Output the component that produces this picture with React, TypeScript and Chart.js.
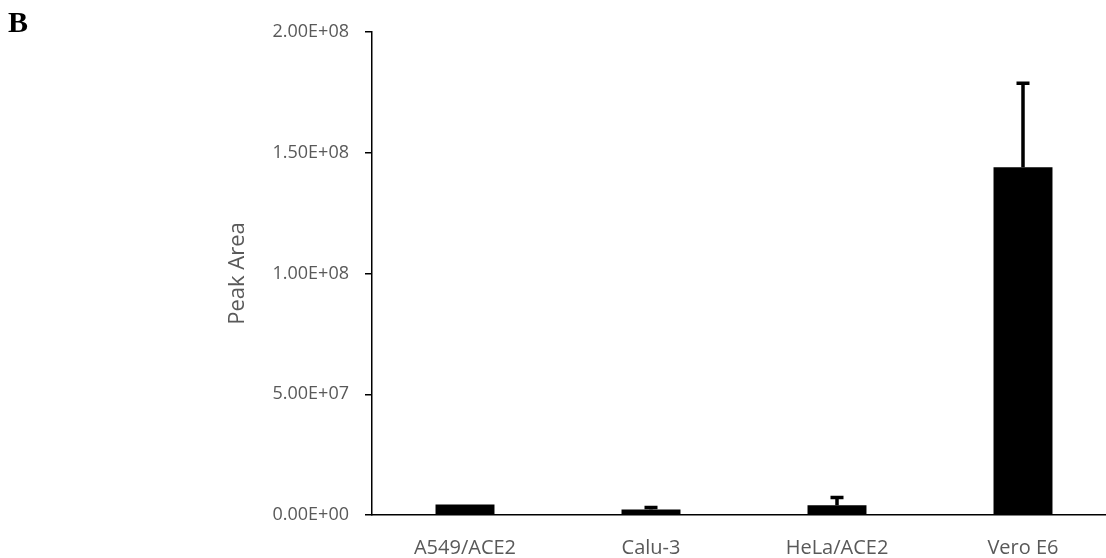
import React, { useEffect, useRef } from 'react';
import { Chart, registerables } from 'chart.js';

Chart.register(...registerables);

const categories = ['A549/ACE2', 'Calu-3', 'HeLa/ACE2', 'Vero E6'];
const peakArea = [4.3e6, 2.3e6, 4.0e6, 1.44e8];
const errorPlus = [0, 0.8e6, 3.2e6, 3.48e7];
const yMin = 0;
const yMax = 2e8;
const yStep = 5e7;
const yTitle = 'Peak Area';
const panelLabel = 'B';

const GRAY = '#595959';
const FONT = "'Open Sans', sans-serif";

function sci(v: number): string {
  if (v === 0) return '0.00E+00';
  const exp = Math.floor(Math.log10(Math.abs(v)));
  const mant = v / Math.pow(10, exp);
  const sign = exp < 0 ? '-' : '+';
  return mant.toFixed(2) + 'E' + sign + String(Math.abs(exp)).padStart(2, '0');
}

const errorBarPlugin = {
  id: 'errorBars',
  afterDatasetsDraw(chart: any) {
    const meta = chart.getDatasetMeta(0);
    const yScale = chart.scales.y;
    const ctx = chart.ctx;
    ctx.save();
    ctx.strokeStyle = '#000';
    ctx.lineWidth = 3.5;
    ctx.lineCap = 'butt';
    meta.data.forEach((bar: any, i: number) => {
      const e = errorPlus[i];
      if (!e) return;
      const x = bar.x;
      const yTop = yScale.getPixelForValue(peakArea[i] + e);
      const yBar = bar.y;
      ctx.beginPath();
      ctx.moveTo(x, yBar);
      ctx.lineTo(x, yTop);
      ctx.moveTo(x - 6.5, yTop);
      ctx.lineTo(x + 6.5, yTop);
      ctx.stroke();
    });
    ctx.restore();
  },
};

const labelsPlugin = {
  id: 'extraLabels',
  afterDraw(chart: any) {
    const ctx = chart.ctx;
    const area = chart.chartArea;
    ctx.save();
    ctx.fillStyle = GRAY;
    ctx.font = `22px ${FONT}`;
    ctx.textAlign = 'center';
    ctx.textBaseline = 'alphabetic';
    ctx.translate(244, (area.top + area.bottom) / 2);
    ctx.rotate(-Math.PI / 2);
    ctx.fillText(yTitle, 0, 0);
    ctx.restore();

    ctx.save();
    ctx.fillStyle = '#000';
    ctx.font = `bold 30px 'Liberation Serif', 'Times New Roman', serif`;
    ctx.textAlign = 'left';
    ctx.textBaseline = 'alphabetic';
    ctx.fillText(panelLabel, 8, 32);
    ctx.restore();
  },
};

export default function App() {
  const ref = useRef<HTMLCanvasElement | null>(null);

  useEffect(() => {
    if (!ref.current) return;
    const chart = new Chart(ref.current, {
      type: 'bar',
      data: {
        labels: categories,
        datasets: [
          {
            data: peakArea,
            backgroundColor: '#000',
            borderWidth: 0,
            categoryPercentage: 1,
            barPercentage: 0.317,
          },
        ],
      },
      options: {
        responsive: false,
        animation: false,
        devicePixelRatio: 1,
        layout: { padding: { left: 0, right: 0, top: 32, bottom: 0 } },
        plugins: {
          legend: { display: false },
          tooltip: { enabled: false },
          title: { display: false },
        },
        scales: {
          x: {
            grid: { display: false },
            border: { display: true, color: '#000', width: 1.5 },
            ticks: {
              color: GRAY,
              font: { family: FONT, size: 20 },
              padding: 13,
              maxRotation: 0,
            },
            afterFit(scale: any) {
              scale.height = 43;
            },
          },
          y: {
            min: yMin,
            max: yMax,
            grid: {
              display: true,
              drawOnChartArea: false,
              drawTicks: true,
              tickLength: 7,
              color: '#000',
              lineWidth: 1.5,
            },
            border: { display: true, color: '#000', width: 1.5 },
            ticks: {
              stepSize: yStep,
              color: GRAY,
              font: { family: FONT, size: 18 },
              padding: 16,
              callback: (v: any) => sci(Number(v)),
            },
            afterFit(scale: any) {
              scale.width = 372;
            },
          },
        },
      },
      plugins: [errorBarPlugin, labelsPlugin],
    });
    return () => chart.destroy();
  }, []);

  return (
    <div
      style={{
        position: 'fixed',
        left: 0,
        top: 0,
        width: 1106,
        height: 558,
        overflow: 'hidden',
        background: '#fff',
      }}
    >
      <canvas ref={ref} width={1116} height={558} style={{ display: 'block' }} />
    </div>
  );
}
